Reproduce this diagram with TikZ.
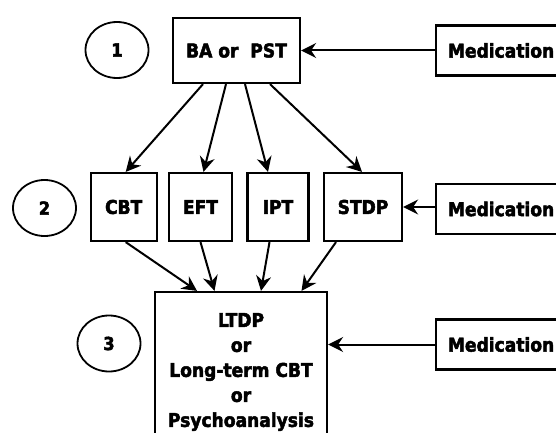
\documentclass[tikz,border=0pt]{standalone}
\usepackage{fontspec}
\setmainfont{DejaVu Sans Condensed}[BoldFeatures={FakeBold=2.5}]
\usetikzlibrary{arrows.meta,shapes.geometric}

\begin{document}
\begin{tikzpicture}[x=1pt,y=-1pt,
    box/.style={draw,line width=2.2pt,inner sep=0pt,align=center,font=\fontsize{19pt}{25pt}\selectfont\bfseries},
    medbox/.style={box,anchor=west,minimum width=130pt,minimum height=50pt},
    stage/.style={draw,ellipse,line width=1.8pt,minimum width=63pt,minimum height=56pt,inner sep=0pt,font=\fontsize{18pt}{18pt}\selectfont\bfseries},
    arr/.style={line width=2pt,-{Stealth[length=15pt,width=15pt,inset=5pt]}}]
    \useasboundingbox (0,0) rectangle (556,433);
    % stage numbers
    \node [stage] (s1) at (117,50) {1};
    \node [stage] (s2) at (44.5,208) {2};
    \node [stage] (s3) at (109,343.5) {3};
    % first step
    \node [box,minimum width=127pt,minimum height=65pt] (ba) at (236.5,50.5) {BA or\ \ PST};
    % second step
    \node [box,minimum width=66pt,minimum height=68pt] (cbt) at (123.7,207) {CBT};
    \node [box,minimum width=63pt,minimum height=68pt] (eft) at (200.5,207) {EFT};
    \node [box,minimum width=61pt,minimum height=68pt] (ipt) at (278,207) {IPT};
    \node [box,minimum width=78pt,minimum height=68pt] (stdp) at (363,207) {STDP};
    % third step
    \node [box,minimum width=172pt,minimum height=160pt] (ltdp) at (241,372) {LTDP\\or\\Long-term CBT\\or\\Psychoanalysis};
    % medication boxes right
    \node [medbox] (med1) at (435,50.5) {Medication};
    \node [medbox] (med2) at (435,209) {Medication};
    \node [medbox] (med3) at (435,344.5) {Medication};
    % arrows step 1 to step 2
    \draw [arr] ([xshift=-33.5pt]ba.south) -- ([xshift=2pt]cbt.north);
    \draw [arr] ([xshift=-10.5pt]ba.south) -- ([xshift=3pt]eft.north);
    \draw [arr] ([xshift=8.5pt]ba.south) -- ([xshift=-10pt]ipt.north);
    \draw [arr] ([xshift=33.5pt]ba.south) -- ([xshift=-1pt]stdp.north);
    % arrows step 2 to step 3
    \draw [arr] ([xshift=2pt]cbt.south) -- ([xshift=-44pt]ltdp.north);
    \draw [arr] (eft.south) -- ([xshift=-26.5pt]ltdp.north);
    \draw [arr] ([xshift=-8.5pt]ipt.south) -- ([xshift=20pt]ltdp.north);
    \draw [arr] ([xshift=-27pt]stdp.south) -- ([xshift=60.5pt]ltdp.north);
    % medication arrows
    \draw [arr] (med1.west) -- (med1.west -| ba.east);
    \draw [arr] ([yshift=2pt]med2.west) -- ([yshift=2pt]med2.west -| stdp.east);
    \draw [arr] (med3.west) -- (med3.west -| ltdp.east);
\end{tikzpicture}
\end{document}
